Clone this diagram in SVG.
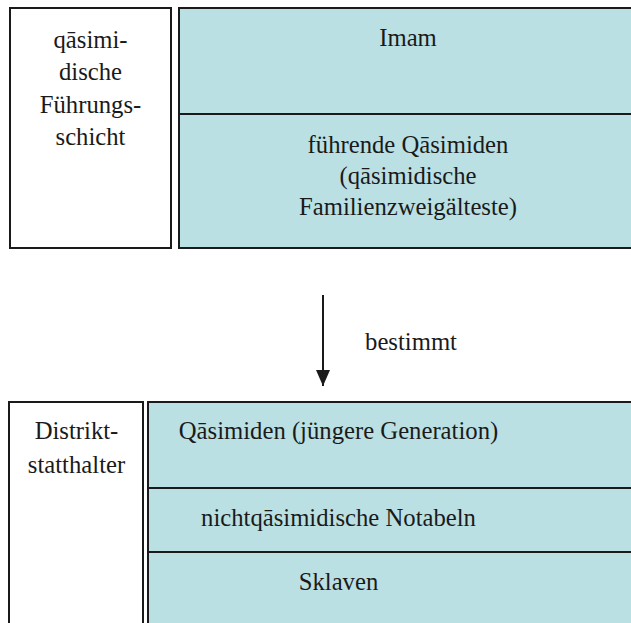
<svg xmlns="http://www.w3.org/2000/svg" width="631" height="623" viewBox="0 0 631 623">
<style>
.box{stroke:#1a1a1a;stroke-width:2;}
.w{fill:#ffffff;}
.t{fill:#bbe0e3;}
.div{stroke:#1a1a1a;stroke-width:2;fill:none;}
.lbl{font-family:"Liberation Serif","Times New Roman",serif;font-size:24.7px;fill:#1a1a1a;text-anchor:middle;}
</style>
<defs>
<marker id="ah" viewBox="0 0 16 14" refX="16" refY="7" markerWidth="16" markerHeight="14" markerUnits="userSpaceOnUse" orient="auto">
<path d="M0,0 L16,7 L0,14 Z" fill="#1a1a1a"/>
</marker>
</defs>
<rect width="631" height="623" fill="#ffffff"/>
<g id="fuehrungsschicht-label">
<rect class="box w" x="10" y="8" width="161" height="240"/>
<text class="lbl" x="90.5" y="47.5">qāsimi-</text>
<text class="lbl" x="90.5" y="80">dische</text>
<text class="lbl" x="90.5" y="112.5">Führungs-</text>
<text class="lbl" x="90.5" y="145">schicht</text>
</g>
<g id="fuehrungsschicht">
<rect class="box t" x="179" y="8" width="460" height="240"/>
<line class="div" x1="179" y1="114" x2="639" y2="114"/>
<text class="lbl" x="408" y="46">Imam</text>
<text class="lbl" x="408" y="153">führende Qāsimiden</text>
<text class="lbl" x="408" y="184">(qāsimidische</text>
<text class="lbl" x="408" y="215">Familienzweigälteste)</text>
</g>
<g id="connectors">
<line x1="323" y1="295" x2="323" y2="386" stroke="#1a1a1a" stroke-width="2" marker-end="url(#ah)"/>
<text class="lbl" x="411" y="350">bestimmt</text>
</g>
<g id="distriktstatthalter-label">
<rect class="box w" x="9" y="402" width="134" height="230"/>
<text class="lbl" x="76.5" y="439">Distrikt-</text>
<text class="lbl" x="76.5" y="473">statthalter</text>
</g>
<g id="distriktstatthalter">
<rect class="box t" x="148" y="402" width="495" height="230"/>
<line class="div" x1="148" y1="488" x2="643" y2="488"/>
<line class="div" x1="148" y1="552" x2="643" y2="552"/>
<text class="lbl" x="338.5" y="439">Qāsimiden (jüngere Generation)</text>
<text class="lbl" x="338.5" y="526">nichtqāsimidische Notabeln</text>
<text class="lbl" x="338.5" y="590">Sklaven</text>
</g>
</svg>
